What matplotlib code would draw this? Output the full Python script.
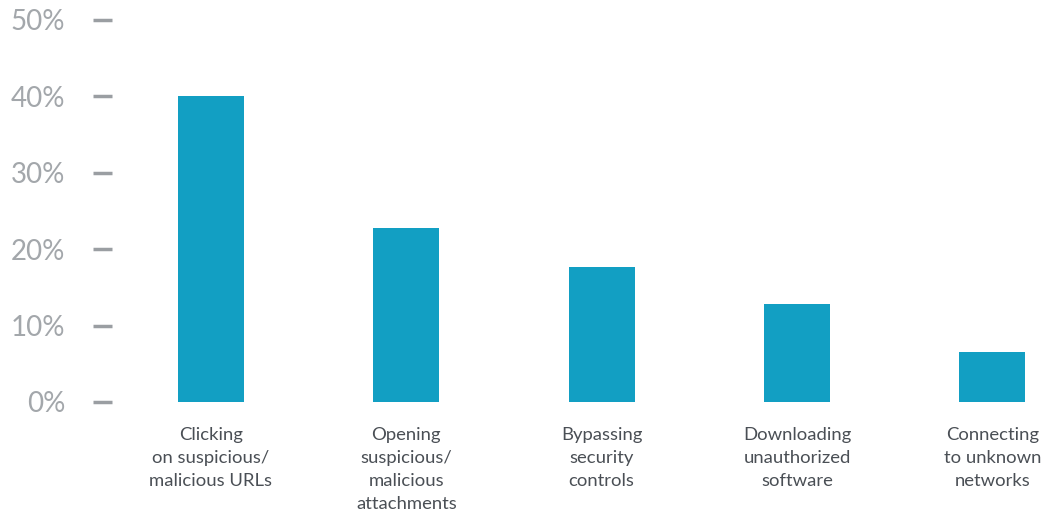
import matplotlib.pyplot as plt

# Data
categories = ['Clicking\non suspicious/\nmalicious URLs',
              'Opening\nsuspicious/\nmalicious\nattachments',
              'Bypassing\nsecurity\ncontrols',
              'Downloading\nunauthorized\nsoftware',
              'Connecting\nto unknown\nnetworks']
values = [40, 22.8, 17.7, 12.8, 6.5]
yticks = [0, 10, 20, 30, 40, 50]
ytick_labels = ['0%', '10%', '20%', '30%', '40%', '50%']

plt.rcParams['font.family'] = ['Lato', 'DejaVu Sans']

fig = plt.figure(figsize=(10.45, 5.14), dpi=100)
ax = fig.add_axes([93 / 1045, (514 - 402) / 514, 952 / 1045, 382 / 514])

x = range(len(categories))
ax.bar(x, values, width=0.338, color='#129fc3')

ax.set_xlim(-0.604, 4.27)
ax.set_ylim(0, 50)

ax.set_yticks(yticks)
ax.set_yticklabels(ytick_labels, fontsize=20, color='#a3a7ab')
ax.tick_params(axis='y', direction='in', length=14, width=2.5,
               color='#9a9ea2', pad=20)

ax.set_xticks(list(x))
ax.set_xticklabels(categories, fontsize=13.3, color='#4a4f55', linespacing=1.54)
ax.tick_params(axis='x', length=0, pad=18)

for s in ax.spines.values():
    s.set_visible(False)

fig.savefig('out.png', dpi=100)
